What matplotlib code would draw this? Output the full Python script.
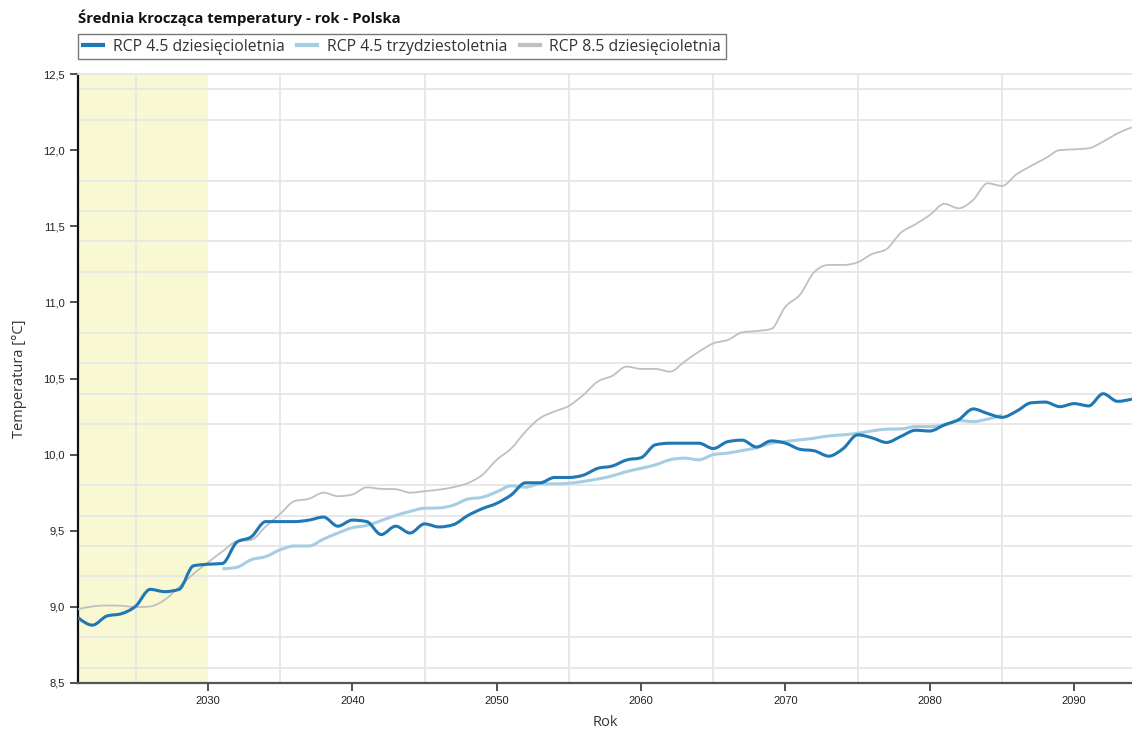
import numpy as np
import matplotlib
matplotlib.use("Agg")
import matplotlib.pyplot as plt
from matplotlib.path import Path
from matplotlib.patches import PathPatch
from matplotlib.lines import Line2D
from matplotlib.ticker import MultipleLocator, FuncFormatter

years = list(range(2021, 2095))
years_30 = list(range(2031, 2086))

rcp45_10 = [8.93, 8.88, 8.94, 8.955, 9.005, 9.115, 9.10, 9.115, 9.27, 9.28,
            9.285, 9.425, 9.46, 9.56, 9.56, 9.56, 9.57, 9.59, 9.53, 9.57,
            9.56, 9.475, 9.53, 9.485, 9.545, 9.525, 9.54, 9.60, 9.645, 9.68,
            9.735, 9.815, 9.815, 9.85, 9.85, 9.865, 9.91, 9.925, 9.965, 9.98,
            10.065, 10.075, 10.075, 10.075, 10.04, 10.085, 10.095, 10.05, 10.09, 10.075,
            10.035, 10.025, 9.99, 10.04, 10.13, 10.11, 10.08, 10.12, 10.16, 10.155,
            10.195, 10.23, 10.30, 10.27, 10.245, 10.285, 10.34, 10.345, 10.315, 10.335,
            10.32, 10.40, 10.35, 10.365]

rcp45_30 = [9.25, 9.26, 9.31, 9.33, 9.375, 9.40, 9.40, 9.445, 9.485, 9.52,
            9.535, 9.567, 9.60, 9.627, 9.648, 9.65, 9.668, 9.708, 9.72, 9.755,
            9.795, 9.786, 9.808, 9.808, 9.812, 9.824, 9.84, 9.86, 9.889, 9.91,
            9.933, 9.966, 9.977, 9.966, 10.0, 10.01, 10.027, 10.045, 10.075, 10.086,
            10.097, 10.108, 10.123, 10.13, 10.14, 10.156, 10.167, 10.169, 10.184, 10.184,
            10.195, 10.224, 10.217, 10.233, 10.26]

rcp85_10 = [8.985, 9.003, 9.009, 9.007, 8.998, 9.003, 9.046, 9.13, 9.217, 9.292,
            9.364, 9.43, 9.44, 9.528, 9.61, 9.695, 9.71, 9.75, 9.727, 9.738,
            9.785, 9.775, 9.773, 9.75, 9.76, 9.77, 9.786, 9.813, 9.867, 9.966,
            10.04, 10.152, 10.24, 10.283, 10.32, 10.392, 10.48, 10.517, 10.578, 10.563,
            10.563, 10.545, 10.61, 10.676, 10.731, 10.753, 10.803, 10.812, 10.825, 10.972,
            11.05, 11.20, 11.246, 11.246, 11.263, 11.318, 11.35, 11.458, 11.513, 11.574,
            11.647, 11.618, 11.673, 11.782, 11.765, 11.841, 11.896, 11.946, 12.0, 12.005,
            12.012, 12.056, 12.11, 12.15]

labels = ["RCP 4.5 dziesięcioletnia", "RCP 4.5 trzydziestoletnia", "RCP 8.5 dziesięcioletnia"]
colors = ["#1f78b4", "#a6cee3", "#c0c0c0"]


def monotone_path(x, y):
    # same idea as d3.curveMonotoneX: cubic bezier segments with Fritsch-Carlson slopes
    x = np.asarray(x, float)
    y = np.asarray(y, float)
    h = np.diff(x)
    s = np.diff(y) / h
    m = np.zeros_like(y)
    for i in range(1, len(y) - 1):
        s0, s1 = s[i - 1], s[i]
        p = (s0 * h[i] + s1 * h[i - 1]) / (h[i - 1] + h[i])
        m[i] = (np.sign(s0) + np.sign(s1)) * min(abs(s0), abs(s1), 0.5 * abs(p))
    m[0] = (3 * s[0] - m[1]) / 2
    m[-1] = (3 * s[-1] - m[-2]) / 2
    verts = [(x[0], y[0])]
    codes = [Path.MOVETO]
    for i in range(len(x) - 1):
        d = h[i] / 3
        verts += [(x[i] + d, y[i] + m[i] * d), (x[i + 1] - d, y[i + 1] - m[i + 1] * d), (x[i + 1], y[i + 1])]
        codes += [Path.CURVE4] * 3
    return Path(verts, codes)


fig = plt.figure(figsize=(11.32, 7.30), dpi=100)
ax = fig.add_axes([78 / 1132, 47 / 730, 1054 / 1132, 609 / 730])

ax.axvspan(2021, 2030, color="#f8f8d2", zorder=0, lw=0)

series = [(years, rcp85_10, colors[2], 1.3), (years_30, rcp45_30, colors[1], 2.2), (years, rcp45_10, colors[0], 2.2)]
for xs, ys, c, lw in series:
    ax.add_patch(PathPatch(monotone_path(xs, ys), facecolor="none", edgecolor=c, lw=lw, zorder=3))

ax.set_xlim(2021, 2094)
ax.set_ylim(8.5, 12.5)

ax.xaxis.set_major_locator(MultipleLocator(10))
ax.xaxis.set_minor_locator(MultipleLocator(5))
ax.yaxis.set_major_locator(MultipleLocator(0.5))
ax.yaxis.set_minor_locator(MultipleLocator(0.2))
ax.yaxis.set_major_formatter(FuncFormatter(lambda v, p: f"{v:.1f}".replace(".", ",")))
ax.xaxis.set_major_formatter(FuncFormatter(lambda v, p: f"{int(v)}"))
ax.grid(False, which="major")
ax.grid(True, which="minor", color="#e6e6e6", lw=1.3, zorder=1)
ax.set_axisbelow(True)

ax.tick_params(which="major", direction="out", length=6, width=1.2, color="#333333",
               labelsize=8, labelcolor="#222222")
ax.tick_params(which="minor", length=0)
for lab in ax.get_xticklabels() + ax.get_yticklabels():
    lab.set_fontfamily("Liberation Sans")

ax.spines["left"].set_color("#111111")
ax.spines["left"].set_linewidth(1.6)
ax.spines["bottom"].set_color("#555555")
ax.spines["bottom"].set_linewidth(1.6)
ax.spines["top"].set_color("#e6e6e6")
ax.spines["top"].set_linewidth(1.3)
ax.spines["right"].set_visible(False)

ax.set_xlabel("Rok", fontsize=10.5, family="Open Sans", color="#333333", labelpad=6)
ax.set_ylabel("Temperatura [°C]", fontsize=10.5, family="Open Sans", color="#333333", labelpad=12)

fig.text(78 / 1132, 1 - 18 / 730, "Średnia krocząca temperatury - rok - Polska", fontsize=10.7,
         fontweight="bold", family="Open Sans", va="center", ha="left", color="#111111")

handles = [Line2D([], [], color=c, lw=3) for c in colors]
leg = fig.legend(handles, labels, ncol=3, loc="upper left", bbox_to_anchor=(78 / 1132, 1 - 34 / 730),
                 frameon=True, fancybox=False, edgecolor="#555555", borderpad=0.3,
                 handlelength=1.3, handletextpad=0.6, columnspacing=0.8, borderaxespad=0,
                 prop={"family": "Open Sans", "size": 11.3})
leg.get_frame().set_linewidth(1.0)
for t in leg.get_texts():
    t.set_color("#333333")

fig.savefig("out.png", dpi=100)
